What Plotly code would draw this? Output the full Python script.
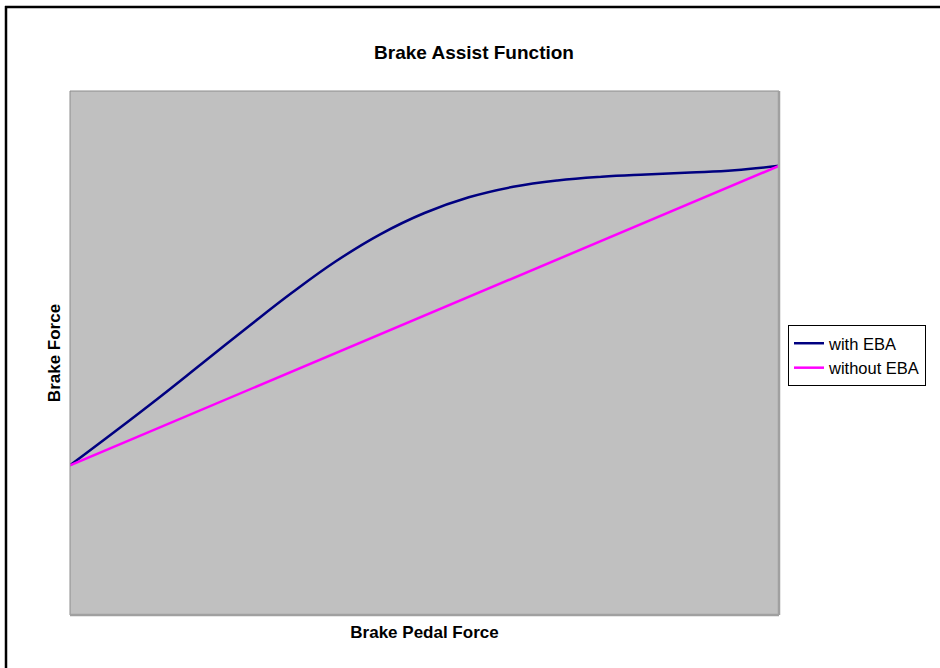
import plotly.graph_objects as go

# Data
pedal_force = list(range(17))
with_eba = [4.0, 4.89, 5.80, 6.74, 7.68, 8.60, 9.45, 10.17, 10.74, 11.16,
            11.44, 11.61, 11.71, 11.77, 11.82, 11.88, 12.0]
without_eba = [4.0, 4.5, 5.0, 5.5, 6.0, 6.5, 7.0, 7.5, 8.0, 8.5,
               9.0, 9.5, 10.0, 10.5, 11.0, 11.5, 12.0]
series_names = ["with EBA", "without EBA"]

FONT = "Arial, 'Liberation Sans', sans-serif"

fig = go.Figure()
fig.add_trace(go.Scatter(x=pedal_force, y=with_eba, mode="lines", name=series_names[0],
                         line=dict(color="#000080", width=2.5, shape="spline", smoothing=1.2)))
fig.add_trace(go.Scatter(x=pedal_force, y=without_eba, mode="lines", name=series_names[1],
                         line=dict(color="#FF00FF", width=2.5)))

W, H = 940, 668
L, R, T, B = 70, 161, 91, 53
pw, ph = W - L - R, H - T - B

def px2x(px):
    return (px - L) / pw

def py2y(py):
    return (H - B - py) / ph

fig.update_layout(
    width=W, height=H,
    margin=dict(l=L, r=R, t=T, b=B, autoexpand=False),
    paper_bgcolor="white",
    plot_bgcolor="#C0C0C0",
    font=dict(family=FONT, color="black"),
    title=dict(text="<b>Brake Assist Function</b>", font=dict(size=19, family=FONT, color="black"),
               xref="container", x=474 / W, xanchor="center",
               yref="container", y=1 - 52 / H, yanchor="middle"),
    showlegend=True,
    legend=dict(x=px2x(788), y=py2y(325), xanchor="left", yanchor="top",
                bgcolor="white", bordercolor="black", borderwidth=1,
                font=dict(size=16.5, family=FONT, color="black"),
                tracegroupgap=0, itemwidth=30),
    xaxis=dict(range=[0, 16], showgrid=False, zeroline=False, showticklabels=False,
               ticks="", showline=False, automargin=False,
               title=dict(text="<b>Brake Pedal Force</b>", font=dict(size=17, family=FONT, color="black"),
                          standoff=11)),
    yaxis=dict(range=[0, 14], showgrid=False, zeroline=False, showticklabels=False,
               ticks="", showline=False, automargin=False,
               title=dict(text="<b>Brake Force</b>", font=dict(size=17, family=FONT, color="black"),
                          standoff=4)),
)

# plot-area border (thin grey top/left, darker shadow right/bottom)
fig.add_shape(type="line", xref="paper", yref="paper", x0=0, x1=1, y0=1, y1=1,
              line=dict(color="#8c8c8c", width=1))
fig.add_shape(type="line", xref="paper", yref="paper", x0=0, x1=0, y0=0, y1=1,
              line=dict(color="#8c8c8c", width=1))
fig.add_shape(type="line", xref="paper", yref="paper", x0=1, x1=1, y0=0, y1=1,
              line=dict(color="#a0a0a0", width=2.5))
fig.add_shape(type="line", xref="paper", yref="paper", x0=0, x1=1, y0=0, y1=0,
              line=dict(color="#a0a0a0", width=2.5))

# outer chart frame (only top and left edges visible in the crop)
fig.add_shape(type="line", xref="paper", yref="paper",
              x0=px2x(5), x1=px2x(1000), y0=py2y(7), y1=py2y(7),
              line=dict(color="black", width=2.5), layer="above")
fig.add_shape(type="line", xref="paper", yref="paper",
              x0=px2x(6), x1=px2x(6), y0=py2y(6), y1=py2y(700),
              line=dict(color="black", width=2.5), layer="above")

fig.write_html("out.html", config={"displayModeBar": False},
               post_script="document.body.style.margin='0';document.body.style.overflow='hidden';")
